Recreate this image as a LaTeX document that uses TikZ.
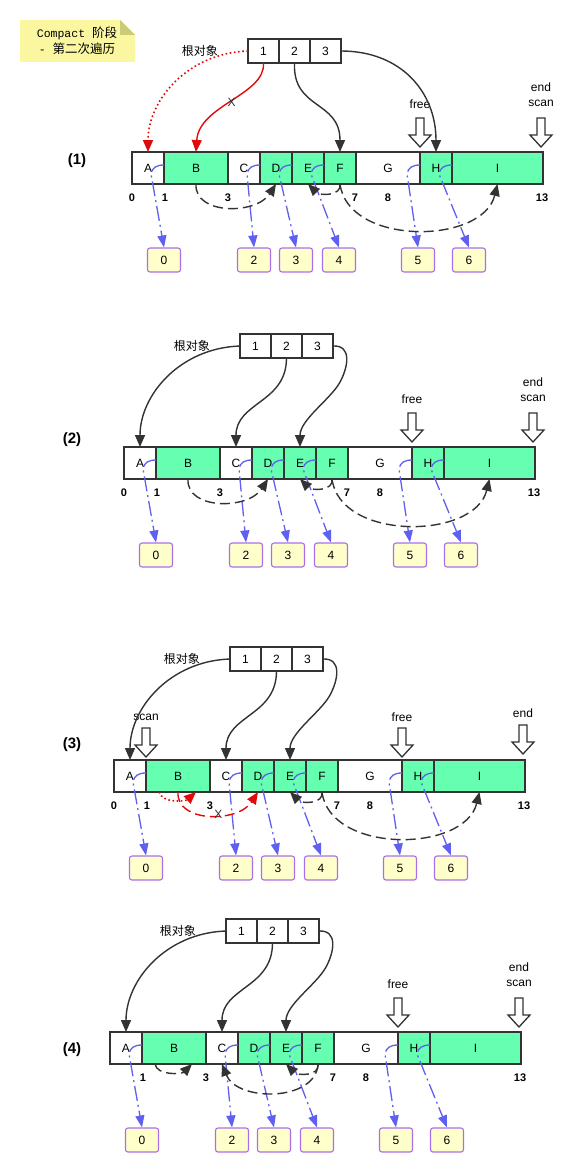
\documentclass[tikz,border=0pt]{standalone}
\usepackage{fontspec}
\setmainfont{Liberation Sans}
\newfontfamily\cjk{Noto Sans CJK SC}
\newfontfamily\notemono{Liberation Mono}
\usetikzlibrary{positioning}
\usetikzlibrary{arrows.meta}
\definecolor{cellgreen}{RGB}{102,255,178}
\definecolor{edgegray}{RGB}{51,51,51}
\definecolor{ptrblue}{RGB}{96,96,240}
\definecolor{slotpurple}{RGB}{170,110,235}
\definecolor{slotyellow}{RGB}{255,255,204}
\definecolor{markred}{RGB}{225,10,10}
\definecolor{notefill}{RGB}{250,247,160}
\definecolor{notefold}{RGB}{204,204,120}

\begin{document}
\begin{tikzpicture}[x=1pt, y=-1pt, >={Triangle[length=12pt,width=10pt]},
  cell/.style={draw=edgegray, line width=1.4pt, minimum height=32pt, inner sep=0pt, outer sep=0pt, font=\fontsize{12}{14}\selectfont},
  root/.style={draw=edgegray, line width=1.4pt, minimum width=31pt, minimum height=24pt, inner sep=0pt, outer sep=0pt, fill=white, font=\fontsize{12}{14}\selectfont},
  slot/.style={draw=slotpurple, fill=slotyellow, line width=1.1pt, rounded corners=2.5pt, minimum width=33pt, minimum height=24pt, inner sep=0pt, font=\fontsize{12}{14}\selectfont},
  idx/.style={font=\bfseries\fontsize{11}{13}\selectfont},
  tag/.style={font=\fontsize{12}{15}\selectfont, align=center, inner sep=0pt},
  cross/.style={font=\fontsize{12}{14}\selectfont, text=edgegray, inner sep=0pt},
  ref/.style={->, draw=edgegray, line width=1.4pt},
  link/.style={->, draw=edgegray, line width=1.4pt, dash pattern=on 10pt off 5pt},
  fwd/.style={-{Triangle[length=12pt,width=9pt]}, draw=ptrblue, line width=1.3pt, dash pattern=on 15pt off 4pt on 2pt off 4pt},
  cursor/.pic={\draw[edgegray, line width=1.3pt, fill=white] (0,0) -- (-11,-12) -- (-4,-12) -- (-4,-29) -- (4,-29) -- (4,-12) -- (11,-12) -- cycle;}]
\useasboundingbox (0,0) rectangle (582,1172);

% sticky note
\fill[notefill] (20,20) -- (120,20) -- (135,35) -- (135,62) -- (20,62) -- cycle;
\fill[notefold] (120,20) -- (135,35) -- (120,35) -- cycle;
\node[font=\notemono\fontsize{11.5}{16}\selectfont, align=center] (note) at (77,41)
  {Compact {\cjk\fontsize{12.5}{16}\selectfont 阶段}\\- {\cjk\fontsize{12.5}{16}\selectfont 第二次遍历}};

% the four snapshots share the heap, the slots and the roots
\foreach \p/\dx/\dy in {1/0/0, 2/-8/295, 3/-18/608, 4/-22/880} {
\begin{scope}[shift={(\dx,\dy)}]
  \foreach \n/\l/\r/\c in {A/132/164/white, B/164/228/cellgreen, C/228/260/white, D/260/292/cellgreen, E/292/324/cellgreen, F/324/356/cellgreen, G/356/420/white, H/420/452/cellgreen, I/452/543/cellgreen}
    \node[cell, fill=\c, minimum width={\r-\l}] (p\p\n) at ({(\l+\r)/2},168) {\n};

  \ifnum\p<4 \node[idx] (p\p i0) at (132,198) {0}; \fi
  \foreach \t/\x in {1/165, 3/228, 7/355, 8/388, 13/542}
    \node[idx] (p\p i\t) at (\x,198) {\t};

  \foreach \s/\x in {0/164, 2/254, 3/296, 4/339, 5/418, 6/469}
    \node[slot] (p\p s\s) at (\x,260) {\s};

  \foreach \n/\s in {A/0, C/2, D/3, E/4, G/5, H/6}
    \draw[fwd] ([yshift=3pt]p\p\n.east) .. controls +(-8,0) and +(1,-6) .. ([xshift=-13pt,yshift=-6pt]p\p\n.east) -- (p\p s\s.north);

  % roots
  \node[root] (p\p r1) at (263.5,51) {1};
  \node[root, right=0pt of p\p r1] (p\p r2) {2};
  \node[root, right=0pt of p\p r2] (p\p r3) {3};
  \node[tag, left=30pt of p\p r1, font=\cjk\fontsize{12}{14}\selectfont] (p\p lbl) {根对象};

  % free / end / scan
  \ifnum\p=3
    \pic at ([yshift=3pt]p\p G.north east) {cursor};
    \node[tag] (p\p free) at ([yshift=43pt]p\p G.north east) {free};
    \pic at ([xshift=-2pt,yshift=6pt]p\p I.north east) {cursor};
    \node[tag] (p\p end) at ([xshift=-2pt,yshift=47pt]p\p I.north east) {end};
    \pic at ([yshift=3pt]p\p A.north east) {cursor};
    \node[tag] (p\p scan) at ([yshift=43pt]p\p A.north east) {scan};
  \else
    \pic at ([yshift=5pt]p\p G.north east) {cursor};
    \node[tag] (p\p free) at ([yshift=48pt]p\p G.north east) {free};
    \pic at ([xshift=-2pt,yshift=5pt]p\p I.north east) {cursor};
    \node[tag] (p\p end) at ([xshift=-2pt,yshift=57pt]p\p I.north east) {end\\scan};
  \fi
\end{scope}
}

\node[font=\bfseries\fontsize{15}{18}\selectfont] (lab1) at (77,161) {(1)};
\node[font=\bfseries\fontsize{15}{18}\selectfont] (lab2) at (72,440) {(2)};
\node[font=\bfseries\fontsize{15}{18}\selectfont] (lab3) at (72,745) {(3)};
\node[font=\bfseries\fontsize{15}{18}\selectfont] (lab4) at (72,1050) {(4)};

% (1) root pointers
\draw[ref, draw=markred, line width=1.6pt, dash pattern=on 1.6pt off 2.6pt] (p1r1.west) .. controls +(-60,2) and +(0,-52) .. (p1A.north);
\draw[ref, draw=markred] (p1r1.south) .. controls +(2,32) and +(3,-47) .. node[pos=0.5, cross] (p1x) {X} (p1B.north);
\draw[ref] (p1r2.south) .. controls +(-2,47) and +(0,-52) .. (p1F.north);
\draw[ref] (p1r3.east) .. controls +(60,0) and +(0,-60) .. (p1H.north);

% (2)-(4) root pointers
\foreach \p in {2,3,4} {
  \draw[ref] (p\p r1.west) .. controls +(-60,2) and +(0,-52) .. (p\p A.north);
  \draw[ref] (p\p r2.south) .. controls +(0,45) and +(0,-45) .. (p\p C.north);
  \draw[ref] (p\p r3.east) .. controls +(19,-1) and +(9,-16) .. ++(6.5,37) .. controls +(-10,17) and +(0,-27) .. (p\p E.north);
}

% heap links
\foreach \p in {1,2}
  \draw[link] (p\p B.south) .. controls +(-2,31) and +(-20,31) .. (p\p D.south);
\foreach \p in {1,2,3}
  \draw[link] (p\p F.south) .. controls +(8,62) and +(-15,61) .. (p\p I.south);
\foreach \p in {1,2,3,4}
  \draw[link] (p\p F.south) .. controls +(2,12) and +(12,12) .. (p\p E.south);

% (3) B is moved
\draw[link, draw=markred] (p3B.south) .. controls +(-2,31) and +(-20,31) .. node[pos=0.58, cross] (p3x) {X} (p3D.south);
\draw[->, draw=markred, line width=1.6pt, dash pattern=on 1.6pt off 2.6pt] ([xshift=-19pt]p3B.south) .. controls +(4,12) and +(-10,9) .. ([xshift=18pt]p3B.south);

% (4)
\draw[link] ([xshift=-19pt]p4B.south) .. controls +(2,12) and +(-10,10) .. ([xshift=18pt]p4B.south);
\draw[link] (p4F.south) .. controls +(-2,38) and +(15,38) .. (p4C.south);

\end{tikzpicture}
\end{document}
